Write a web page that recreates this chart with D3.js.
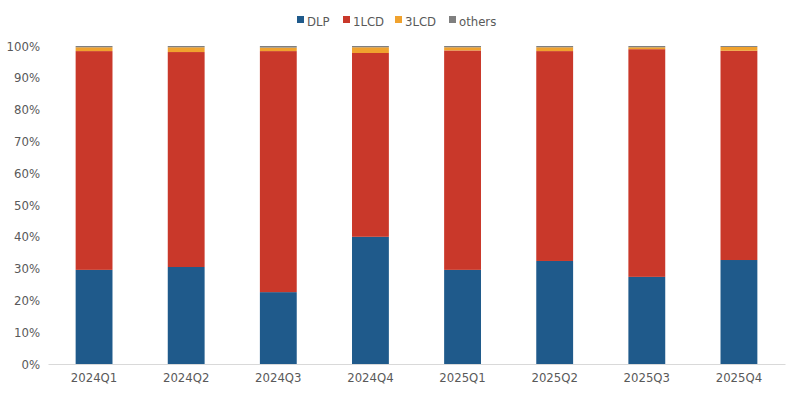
<!DOCTYPE html><html><head><meta charset="utf-8"><script src="https://cdn.jsdelivr.net/npm/d3@7"></script>
<style>body{margin:0;background:#fff}text{font-family:"Liberation Sans Narrow","DejaVu Sans Condensed",sans-serif}</style></head><body><svg id="c" width="800" height="400"></svg><script>
const categories=["2024Q1","2024Q2","2024Q3","2024Q4","2025Q1","2025Q2","2025Q3","2025Q4"];
const seriesNames=["DLP","1LCD","3LCD","others"];
const colors=["#1f5a8b","#c9382a","#f0a22e","#7f7f7f"];
const DLP=[29.6,30.5,22.6,40.0,29.6,32.4,27.4,32.7];
const LCD1=[68.8,67.6,75.8,57.8,69.0,66.0,71.6,65.8];
const LCD3=[1.2,1.5,1.1,1.8,1.0,1.2,0.6,1.2];
const others=[0.4,0.4,0.5,0.4,0.4,0.4,0.4,0.3];
const yTicks=[0,10,20,30,40,50,60,70,80,90,100];
const svg=d3.select("#c");
const m={l:48,r:15,t:46,b:36};
const x=d3.scaleBand().domain(categories).range([m.l,800-m.r]).paddingInner(0.6).paddingOuter(0.3);
const y=d3.scaleLinear().domain([0,100]).range([364,46]);
const data=categories.map((c,i)=>({cat:c,DLP:DLP[i],"1LCD":LCD1[i],"3LCD":LCD3[i],others:others[i]}));
const stack=d3.stack().keys(seriesNames)(data);
svg.append("g").selectAll("g").data(stack).join("g").attr("fill",(d,i)=>colors[i])
 .selectAll("rect").data(d=>d).join("rect")
 .attr("x",d=>x(d.data.cat)).attr("width",x.bandwidth())
 .attr("y",d=>y(d[1])).attr("height",d=>y(d[0])-y(d[1]));
const ya=svg.append("g").attr("transform",`translate(${m.l},0)`).call(d3.axisLeft(y).tickValues(yTicks).tickFormat(d=>d+"%").tickSize(0).tickPadding(8));
ya.select(".domain").remove();
ya.selectAll("text").attr("fill","#595959").style("font-size","13px");
const xa=svg.append("g").attr("transform","translate(0,364)").call(d3.axisBottom(x).tickSize(0).tickPadding(9));
xa.select(".domain").attr("stroke","#d9d9d9");
xa.selectAll("text").attr("fill","#595959").style("font-size","13px");
const leg=svg.append("g").attr("transform","translate(297,21)");
const offs=[0,46,98,152];
seriesNames.forEach((s,i)=>{const g=leg.append("g").attr("transform",`translate(${offs[i]},0)`);
 g.append("rect").attr("x",0).attr("y",-5).attr("width",7).attr("height",7).attr("fill",colors[i]);
 g.append("text").attr("x",10).attr("y",0).attr("dy","0.35em").attr("fill","#595959").style("font-size","13px").text(s);});
</script></body></html>
